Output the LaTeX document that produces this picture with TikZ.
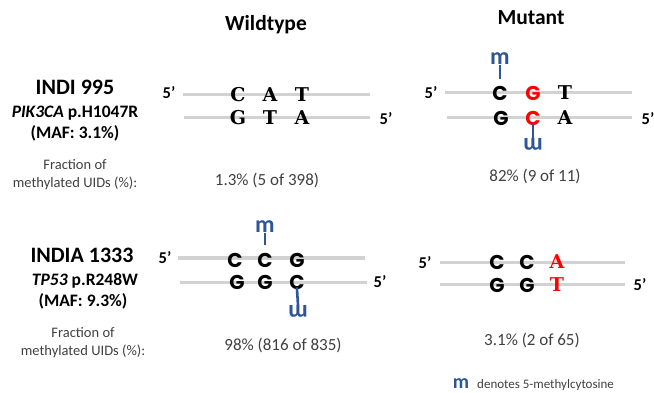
\documentclass[tikz,border=0pt]{standalone}
\usepackage{fontspec}
\setmainfont{Carlito}
\newfontfamily\slabfont{DejaVu Serif}
\newfontfamily\geofont{Poppins}
\definecolor{mblue}{RGB}{47,85,151}
\definecolor{strand}{RGB}{210,210,210}
\definecolor{txt}{RGB}{64,64,64}
\tikzset{
  strandline/.style={draw=strand, line width=3pt},
  slab/.style={font=\fontsize{19}{19}\slabfont\bfseries, inner sep=0pt},
  geo/.style={font=\fontsize{20}{20}\geofont\bfseries, inner sep=0pt},
  mutbase/.style={text=red},
  prime/.style={font=\bfseries\fontsize{16.5}{16}\selectfont, inner sep=0pt},
  methyl/.style={text=mblue, font=\bfseries\fontsize{24}{24}\selectfont, inner sep=0pt},
  stub/.style={draw=mblue, line width=2.6pt},
  head/.style={font=\bfseries\fontsize{21.5}{24}\selectfont, anchor=base, inner sep=0pt},
  sample/.style={font=\bfseries\fontsize{22}{24}\selectfont, anchor=base, inner sep=0pt},
  gene/.style={font=\bfseries\fontsize{17.5}{20}\selectfont, anchor=base, inner sep=0pt},
  frac/.style={text=txt, font=\fontsize{14.5}{16}\selectfont, anchor=base, inner sep=0pt},
  pct/.style={text=txt, font=\fontsize{17}{18}\selectfont, anchor=base, inner sep=0pt},
}
\begin{document}
\begin{tikzpicture}[x=1pt,y=-1pt]
\useasboundingbox (0,0) rectangle (654,393);
% headings
\node[head] (wt) at (266,31) {Wildtype};
\node[head] (mt) at (531,25) {Mutant};
% row 1 labels
\node[sample] (s1) at (75,95) {INDI 995};
\node[gene] (g1) at (75,118) {\textit{PIK3CA} p.H1047R};
\node[gene] (maf1) at (75,139) {(MAF: 3.1\%)};
\node[frac] (f1a) at (75,170) {Fraction of};
\node[frac] (f1b) at (75,188) {methylated UIDs (\%):};
% row 2 labels
\node[sample] (s2) at (82,262) {INDIA 1333};
\node[gene] (g2) at (85,285) {\textit{TP53} p.R248W};
\node[gene] (maf2) at (83,306) {(MAF: 9.3\%)};
\node[frac] (f2a) at (83,337) {Fraction of};
\node[frac] (f2b) at (83,355) {methylated UIDs (\%):};

% ---------- row 1 wildtype
\coordinate (a1) at (183,95); \coordinate (a2) at (370,95);
\coordinate (a3) at (184,118); \coordinate (a4) at (370,118);
\draw[strandline] (a1) -- (a2);
\draw[strandline] (a3) -- (a4);
\node[prime] (p1) at (169,93) {5’};
\node[prime] (p2) at (386,119) {5’};
\node[slab] (w1t1) at (238,95) {C};
\node[slab] (w1t2) at (270,95) {A};
\node[slab] (w1t3) at (302,95) {T};
\node[slab] (w1b1) at (238,118) {G};
\node[slab] (w1b2) at (270,118) {T};
\node[slab] (w1b3) at (302,118) {A};
\node[pct] (pc1) at (267,186) {1.3\% (5 of 398)};

% ---------- row 1 mutant
\coordinate (b1) at (445,93); \coordinate (b2) at (632,93);
\coordinate (b3) at (447,118); \coordinate (b4) at (632,118);
\draw[strandline] (b1) -- (b2);
\draw[strandline] (b3) -- (b4);
\node[prime] (p3) at (431,93) {5’};
\node[prime] (p4) at (648,119) {5’};
\node[geo] (m1t1) at (500,93) {C};
\node[geo,mutbase] (m1t2) at (533,93) {G};
\node[slab] (m1t3) at (565,93) {T};
\node[geo] (m1b1) at (501,118) {G};
\node[geo,mutbase] (m1b2) at (533,118) {C};
\node[slab] (m1b3) at (565,118) {A};
\node[methyl, anchor=south] (me1) at (500,65) {m};
\draw[stub, shorten >=7pt] (me1.south) -- (m1t1.north);
\node[methyl, rotate=180] (mw1) at (533,144) {m};
\draw[stub, shorten <=-2pt] (m1b2.south) -- (mw1.south);
\node[pct] (pc2) at (535,182) {82\% (9 of 11)};

% ---------- row 2 wildtype
\coordinate (c1) at (178,258); \coordinate (c2) at (365,258);
\coordinate (c3) at (180,282); \coordinate (c4) at (367,282);
\draw[strandline] (c1) -- (c2);
\draw[strandline] (c3) -- (c4);
\node[prime] (p5) at (165,258) {5’};
\node[prime] (p6) at (380,282) {5’};
\node[geo] (w2t1) at (235,260) {C};
\node[geo] (w2t2) at (265,260) {C};
\node[geo] (w2t3) at (297,260) {G};
\node[geo] (w2b1) at (237,282) {G};
\node[geo] (w2b2) at (265,282) {G};
\node[geo] (w2b3) at (297,282) {C};
\node[methyl, anchor=south] (me2) at (265,233) {m};
\draw[stub, shorten >=8pt] (me2.south) -- (w2t2.north);
\node[methyl, rotate=180] (mw2) at (298,311) {m};
\draw[stub, shorten <=-2pt] (w2b3.south) -- (mw2.south);
\node[pct] (pc3) at (283,350) {98\% (816 of 835)};

% ---------- row 2 mutant
\coordinate (d1) at (440,262); \coordinate (d2) at (625,262);
\coordinate (d3) at (440,284); \coordinate (d4) at (625,284);
\draw[strandline] (d1) -- (d2);
\draw[strandline] (d3) -- (d4);
\node[prime] (p7) at (425,263) {5’};
\node[prime] (p8) at (640,285) {5’};
\node[geo] (m2t1) at (497,262) {C};
\node[geo] (m2t2) at (527,262) {C};
\node[slab,mutbase] (m2t3) at (557,262) {A};
\node[geo] (m2b1) at (497,285) {G};
\node[geo] (m2b2) at (527,285) {G};
\node[slab,mutbase] (m2b3) at (557,285) {T};
\node[pct] (pc4) at (532,345) {3.1\% (2 of 65)};

% legend
\node[methyl, font=\bfseries\fontsize{20}{20}\selectfont, anchor=base] (lm) at (461,388) {m};
\node[text=txt, font=\fontsize{13}{14}\selectfont, anchor=base west, inner sep=0pt] (lt) at (477,388) {denotes 5-methylcytosine};
\end{tikzpicture}
\end{document}
